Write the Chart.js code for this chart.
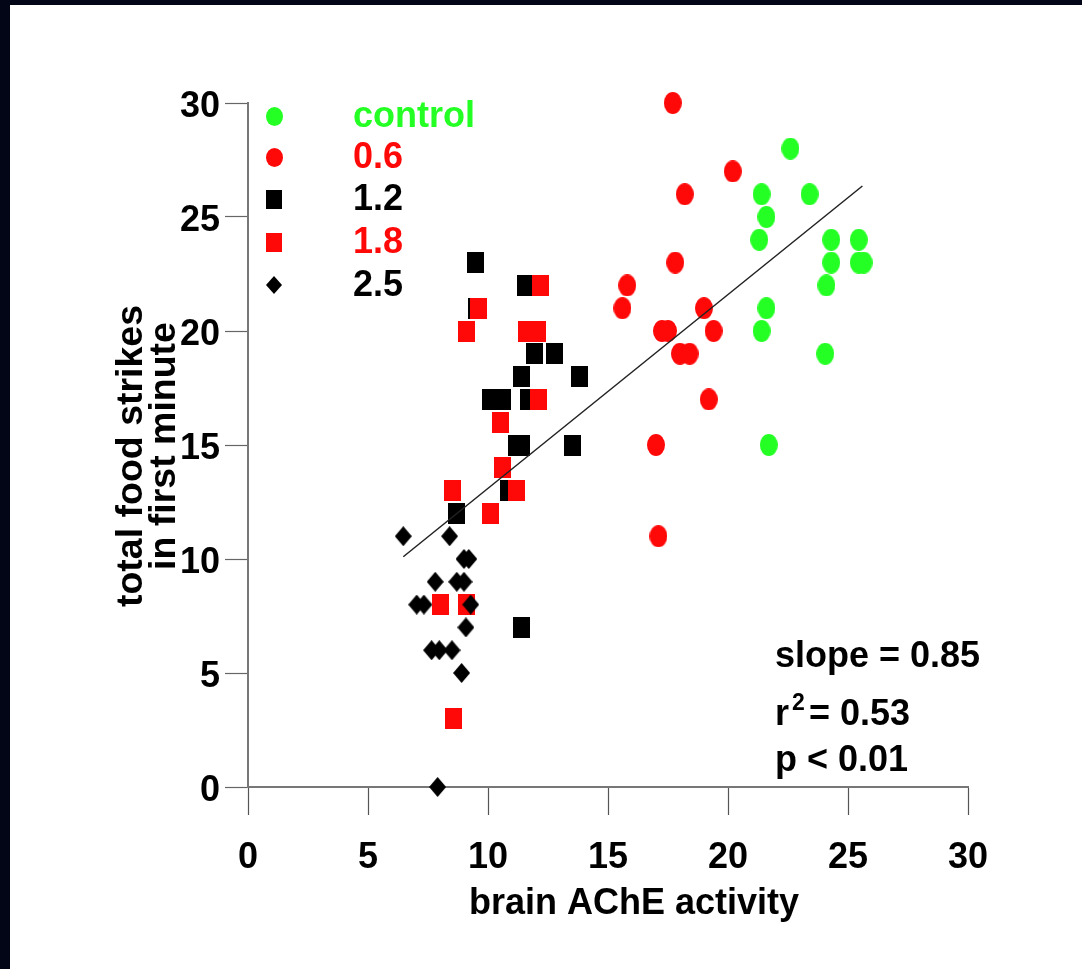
<!DOCTYPE html>
<html>
<head>
<meta charset="utf-8">
<title>brain AChE activity vs food strikes</title>
<script src="https://cdn.jsdelivr.net/npm/chart.js@4.4.1/dist/chart.umd.min.js"></script>
<style>
  html, body { margin: 0; padding: 0; background: #020617; }
  #wrap { position: absolute; left: 10px; top: 5px; width: 1072px; height: 964px; background: #ffffff; }
  canvas { display: block; }
</style>
</head>
<body>
<div id="wrap"><canvas id="chart" width="1072" height="964"></canvas></div>
<script>
// data: x = brain AChE activity, y = total food strikes
const controlX = [22.6, 21.4, 23.4, 21.6, 21.3, 24.3, 25.45, 24.3, 25.45, 25.65, 24.1, 21.6, 21.4, 24.05, 21.7];
const controlY = [28, 26, 26, 25, 24, 24, 24, 23, 23, 23, 22, 21, 20, 19, 15];

const dose06X = [17.7, 20.2, 18.2, 17.8, 15.8, 15.6, 19.0, 17.25, 17.5, 19.4, 18.0, 18.4, 19.2, 17.0, 17.1];
const dose06Y = [30, 27, 26, 23, 22, 21, 21, 20, 20, 20, 19, 19, 17, 15, 11];

const dose12X = [9.46, 11.55, 9.52, 11.92, 12.76, 11.4, 13.8, 10.1, 10.6, 11.7, 11.2, 11.4, 13.5, 10.85, 8.7, 11.4];
const dose12Y = [23, 22, 21, 19, 19, 18, 18, 17, 17, 17, 15, 15, 15, 13, 12, 7];

const dose18X = [12.2, 9.6, 9.1, 11.6, 12.05, 12.1, 10.5, 10.6, 8.5, 11.2, 10.1, 8.0, 9.1, 8.58];
const dose18Y = [22, 21, 20, 20, 20, 17, 16, 14, 13, 13, 12, 8, 8, 3];

const dose25X = [6.47, 8.4, 9.0, 9.2, 7.8, 8.7, 9.0, 7.03, 7.33, 9.28, 9.08, 7.65, 7.97, 8.5, 8.9, 7.9];
const dose25Y = [11, 11, 10, 10, 9, 9, 9, 8, 8, 8, 7, 6, 6, 6, 5, 0];

// regression line end points
const fitX = [6.47, 25.6];
const fitY = [10.1, 26.36];

const axisTicks = [0, 5, 10, 15, 20, 25, 30];
const legendLabels = ["control", "0.6", "1.2", "1.8", "2.5"];
const statLines = ["slope = 0.85", "r", "2", "= 0.53", "p < 0.01"];

const GREEN = "#24ff24";
const RED = "#ff0808";
const BLACK = "#000000";
const FONT = "Arial, 'Liberation Sans', sans-serif";

document.addEventListener("DOMContentLoaded", function() {
  // markers are a bit taller than wide in the picture, so draw them as small images
  function makeMarker(shape, color, w, h) {
    const c = document.createElement("canvas");
    c.width = w;
    c.height = h;
    const g = c.getContext("2d");
    g.fillStyle = color;
    g.beginPath();
    if (shape === "ellipse") {
      g.ellipse(w / 2, h / 2, w / 2, h / 2, 0, 0, Math.PI * 2);
    } else if (shape === "diamond") {
      g.moveTo(w / 2, 0);
      g.lineTo(w, h / 2);
      g.lineTo(w / 2, h);
      g.lineTo(0, h / 2);
      g.closePath();
    } else {
      g.rect(0, 0, w, h);
    }
    g.fill();
    return c;
  }

  const markers = [
    makeMarker("ellipse", GREEN, 18, 22),
    makeMarker("ellipse", RED, 18, 22),
    makeMarker("rect", BLACK, 17, 21),
    makeMarker("rect", RED, 17, 21),
    makeMarker("diamond", BLACK, 17, 20)
  ];
  const legendMarkers = [
    makeMarker("ellipse", GREEN, 17, 19),
    makeMarker("ellipse", RED, 17, 19),
    makeMarker("rect", BLACK, 16, 19),
    makeMarker("rect", RED, 16, 19),
    makeMarker("diamond", BLACK, 16, 18)
  ];
  const legendColors = [GREEN, RED, BLACK, RED, BLACK];

  function toPoints(xs, ys) {
    return xs.map((x, i) => ({ x: x, y: ys[i] }));
  }

  function groupDataset(label, xs, ys, idx, order) {
    return {
      label: label,
      data: toPoints(xs, ys),
      pointStyle: markers[idx],
      pointRadius: 10,
      pointHoverRadius: 10,
      showLine: false,
      clip: false,
      order: order
    };
  }

  // legend, axis titles and the statistics text
  const overlay = {
    id: "overlay",
    afterDraw(chart) {
      const ctx = chart.ctx;
      ctx.save();

      // legend
      const rows = [111, 152, 194, 237, 280];
      ctx.font = "bold 36px " + FONT;
      ctx.textAlign = "left";
      ctx.textBaseline = "middle";
      legendLabels.forEach((txt, i) => {
        const m = legendMarkers[i];
        ctx.drawImage(m, Math.round(264 - m.width / 2), Math.round(rows[i] - m.height / 2));
        ctx.fillStyle = legendColors[i];
        ctx.fillText(txt, 343, rows[i] + 1);
      });

      // stats
      ctx.fillStyle = BLACK;
      ctx.textBaseline = "alphabetic";
      ctx.font = "bold 36px " + FONT;
      ctx.fillText(statLines[0], 765, 662);
      ctx.fillText(statLines[1], 765, 720);
      ctx.fillText(statLines[3], 799, 720);
      ctx.fillText(statLines[4], 765, 766);
      ctx.font = "bold 23px " + FONT;
      ctx.fillText(statLines[2], 782, 705);

      // x axis title
      ctx.font = "bold 36px " + FONT;
      ctx.textAlign = "center";
      ctx.fillText("brain AChE activity", 624, 909);

      // y axis title, two lines rotated
      ctx.font = "bold 37.5px " + FONT;
      ctx.save();
      ctx.translate(132, 451);
      ctx.rotate(-Math.PI / 2);
      ctx.fillText("total food strikes", 0, 0);
      ctx.restore();
      ctx.save();
      ctx.translate(165, 441);
      ctx.rotate(-Math.PI / 2);
      ctx.fillText("in first minute", 0, 0);
      ctx.restore();

      ctx.restore();
    }
  };

  const ctx = document.getElementById("chart");
  new Chart(ctx, {
    type: "scatter",
    data: {
      datasets: [
        {
          label: "fit",
          data: toPoints(fitX, fitY),
          showLine: true,
          borderColor: "#222222",
          borderWidth: 1.5,
          pointRadius: 0,
          clip: false,
          order: 0
        },
        groupDataset(legendLabels[4], dose25X, dose25Y, 4, 1),
        groupDataset(legendLabels[3], dose18X, dose18Y, 3, 2),
        groupDataset(legendLabels[2], dose12X, dose12Y, 2, 3),
        groupDataset(legendLabels[1], dose06X, dose06Y, 1, 4),
        groupDataset(legendLabels[0], controlX, controlY, 0, 5)
      ]
    },
    options: {
      responsive: false,
      animation: false,
      layout: { padding: { top: 98, right: 114, left: 0, bottom: 0 } },
      plugins: {
        legend: { display: false },
        tooltip: { enabled: false }
      },
      scales: {
        x: {
          type: "linear",
          min: 0,
          max: 30,
          afterBuildTicks: s => { s.ticks = axisTicks.map(v => ({ value: v })); },
          afterFit: s => { s.height = 182; },
          ticks: {
            color: BLACK,
            font: { family: FONT, size: 36, weight: "bold" },
            padding: 21,
            maxRotation: 0,
            autoSkip: false
          },
          grid: { drawOnChartArea: false, drawTicks: true, tickLength: 28, tickColor: "#555555", tickWidth: 1.2 },
          border: { display: true, color: "#777777", width: 2 }
        },
        y: {
          type: "linear",
          min: 0,
          max: 30,
          afterBuildTicks: s => { s.ticks = axisTicks.map(v => ({ value: v })); },
          afterFit: s => { s.width = 238; },
          ticks: {
            color: BLACK,
            font: { family: FONT, size: 36, weight: "bold" },
            padding: 5,
            labelOffset: 4,
            autoSkip: false
          },
          grid: { drawOnChartArea: false, drawTicks: true, tickLength: 23, tickColor: "#666666", tickWidth: 1.2 },
          border: { display: true, color: "#777777", width: 2 }
        }
      }
    },
    plugins: [overlay]
  });
});
</script>
</body>
</html>
